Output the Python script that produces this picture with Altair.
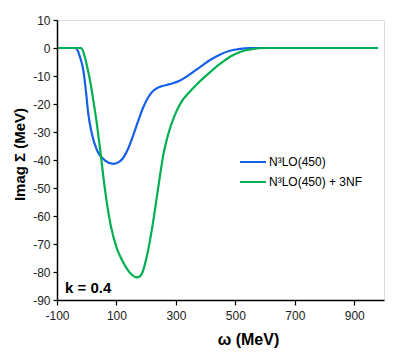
import altair as alt
import pandas as pd

# Blue series: N3LO(450)
blue_w = [-100, -40, -30, -23, -11, -3, 5, 17, 34, 62, 90, 110, 123, 140, 157, 175, 191, 207, 224, 245, 269, 290, 314, 342, 381, 415, 449, 482, 516, 550, 600, 980]
blue_v = [0, 0, -1, -3.1, -8.2, -15, -23.3, -30.5, -36.4, -40.2, -41.4, -40.6, -39.2, -35.8, -31, -25.5, -21, -17.6, -15.3, -13.9, -13.2, -12.6, -11.6, -9.8, -6.8, -4.3, -2.3, -1, -0.3, -0.05, 0, 0]

# Green series: N3LO(450) + 3NF
green_w = [-100, -19, -12, -5, 3, 11, 22, 34, 45, 56, 66, 80, 101, 120, 135, 150, 168, 178, 188, 202, 222, 241, 258, 275, 297, 320, 345, 370, 415, 449, 482, 516, 550, 606, 980]
green_v = [0, 0, -1.2, -3.8, -7.5, -11.5, -18.6, -27, -36, -46, -54, -63, -71.5, -76, -78.8, -80.8, -81.9, -81.6, -80, -74.5, -63, -49.5, -38, -30.5, -23.8, -19, -15.8, -13, -8.6, -5.6, -3.1, -1.4, -0.5, 0, 0]

series_names = ["N\u00b3LO(450)", "N\u00b3LO(450) + 3NF"]
series_colors = ["#1560e8", "#00b050"]

x_ticks = [-100, 100, 300, 500, 700, 900]
y_ticks = [-90, -80, -70, -60, -50, -40, -30, -20, -10, 0, 10]

ann_text = ["k = 0.4"]
ann_x = [-73]
ann_y = [-87.6]

rows = []
for w, v in zip(blue_w, blue_v):
    rows.append({"w": w, "v": v, "s": series_names[0]})
for w, v in zip(green_w, green_v):
    rows.append({"w": w, "v": v, "s": series_names[1]})
df = pd.DataFrame(rows)

xscale = alt.Scale(domain=[-100, 1000], nice=False, zero=False)
yscale = alt.Scale(domain=[-90, 10], nice=False, zero=False)

x_axis = alt.Axis(values=x_ticks, title="\u03c9 (MeV)", grid=False, zindex=2,
                  domainColor="#000000", domainWidth=1.5, tickColor="#000000",
                  tickSize=5, tickWidth=1.2, labelPadding=5, labelFontSize=12,
                  labelFont="Liberation Sans", labelColor="#222222", labelOverlap=False,
                  labelFlush=False, labelExpr="'' + datum.value",
                  titleFont="Liberation Sans", titleFontSize=16, titleFontWeight="bold",
                  titleColor="#000000", titleX=191, titleY=44, titleAlign="center",
                  titleBaseline="alphabetic")
y_axis = alt.Axis(values=y_ticks, title="Imag \u03a3 (MeV)", grid=False, zindex=2,
                  domainColor="#000000", domainWidth=1.5, tickColor="#000000",
                  tickSize=4, tickWidth=1.2, labelPadding=3, labelFontSize=12,
                  labelFont="Liberation Sans", labelColor="#222222", labelOverlap=False,
                  labelFlush=False, labelExpr="'' + datum.value",
                  titleFont="Liberation Sans", titleFontSize=15, titleFontWeight="bold",
                  titleColor="#000000", titleX=-38, titleY=134, titleAngle=270,
                  titleAlign="center", titleBaseline="middle")

lines = alt.Chart(df).mark_line(strokeWidth=2.2, interpolate="monotone").encode(
    x=alt.X("w:Q", scale=xscale, axis=x_axis),
    y=alt.Y("v:Q", scale=yscale, axis=y_axis),
    color=alt.Color("s:N", scale=alt.Scale(domain=series_names, range=series_colors),
                    legend=alt.Legend(title=None, orient="none", legendX=182, legendY=128,
                                      symbolType="stroke", symbolSize=676, symbolStrokeWidth=2,
                                      labelFont="Liberation Sans", labelFontSize=12,
                                      labelColor="#000000", labelOffset=2, rowPadding=-6,
                                      padding=0)),
)

ann = alt.Chart(pd.DataFrame({"t": ann_text, "x": ann_x, "y": ann_y})).mark_text(
    align="left", baseline="alphabetic", font="Liberation Sans", fontSize=15,
    fontWeight="bold", color="#000000"
).encode(x=alt.X("x:Q", scale=xscale, axis=x_axis),
         y=alt.Y("y:Q", scale=yscale, axis=y_axis), text="t:N")

chart = alt.layer(lines, ann).properties(
    width=327, height=280,
    autosize=alt.AutoSizeParams(type="none"),
    padding={"left": 49, "top": 12, "right": 7, "bottom": 49},
).configure_view(stroke="#606060", strokeWidth=1.5).configure(background="white")

chart.save("out.html", embed_options={"renderer": "svg", "actions": False})
